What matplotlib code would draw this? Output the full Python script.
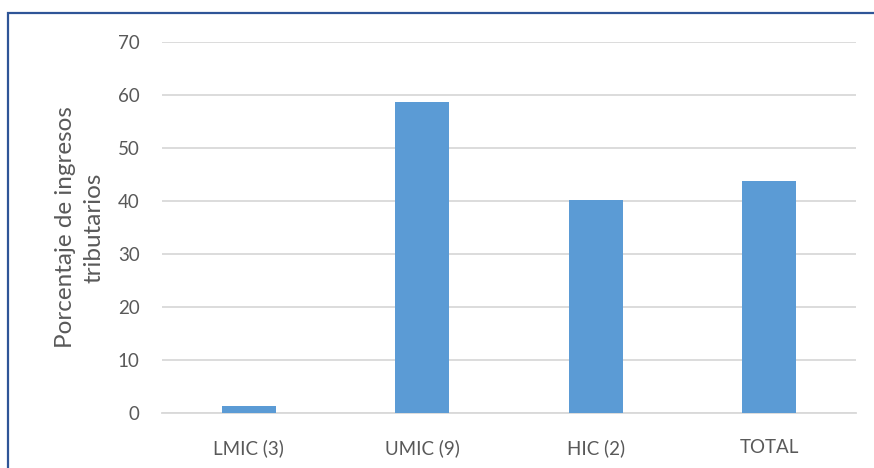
import matplotlib.pyplot as plt
from matplotlib.patches import Rectangle

categories = ['LMIC (3)', 'UMIC (9)', 'HIC (2)', 'TOTAL']
values = [1.3, 58.7, 40.2, 43.8]
y_ticks = [0, 10, 20, 30, 40, 50, 60, 70]

BAR_COLOR = '#5B9BD5'
GRID_COLOR = '#D9D9D9'
TEXT_COLOR = '#595959'

plt.rcParams['font.family'] = ['Lato', 'DejaVu Sans']

fig = plt.figure(figsize=(8.74, 4.68), dpi=100)
fig.patch.set_facecolor('white')

# blue frame around the chart area
frame = Rectangle((8 / 874, -0.05), 1.1, 1 - 13 / 468 + 0.05, transform=fig.transFigure,
                  fill=False, edgecolor='#2F5597', linewidth=1.6)
fig.patches.append(frame)

ax = fig.add_axes([162 / 874, 1 - 413 / 468, 694 / 874, 371 / 468])
x = range(len(categories))
ax.bar(x, values, width=0.31, color=BAR_COLOR, zorder=3)

ax.set_xlim(-0.5, len(categories) - 0.5)
ax.set_ylim(0, 70)
ax.set_yticks(y_ticks)
ax.set_xticks(list(x))
ax.set_xticklabels(categories)

ax.yaxis.grid(True, color=GRID_COLOR, linewidth=1.3, zorder=0)
for side in ['top', 'right', 'left']:
    ax.spines[side].set_visible(False)
ax.spines['bottom'].set_color(GRID_COLOR)
ax.spines['bottom'].set_linewidth(1.3)
ax.tick_params(axis='both', length=0, labelsize=13.5, colors=TEXT_COLOR)
ax.tick_params(axis='y', pad=16)
ax.tick_params(axis='x', pad=19)

ax.set_ylabel('Porcentaje de ingresos\ntributarios', fontsize=17.5, color=TEXT_COLOR,
              labelpad=10, linespacing=1.4)

fig.savefig('out.png', dpi=100)
